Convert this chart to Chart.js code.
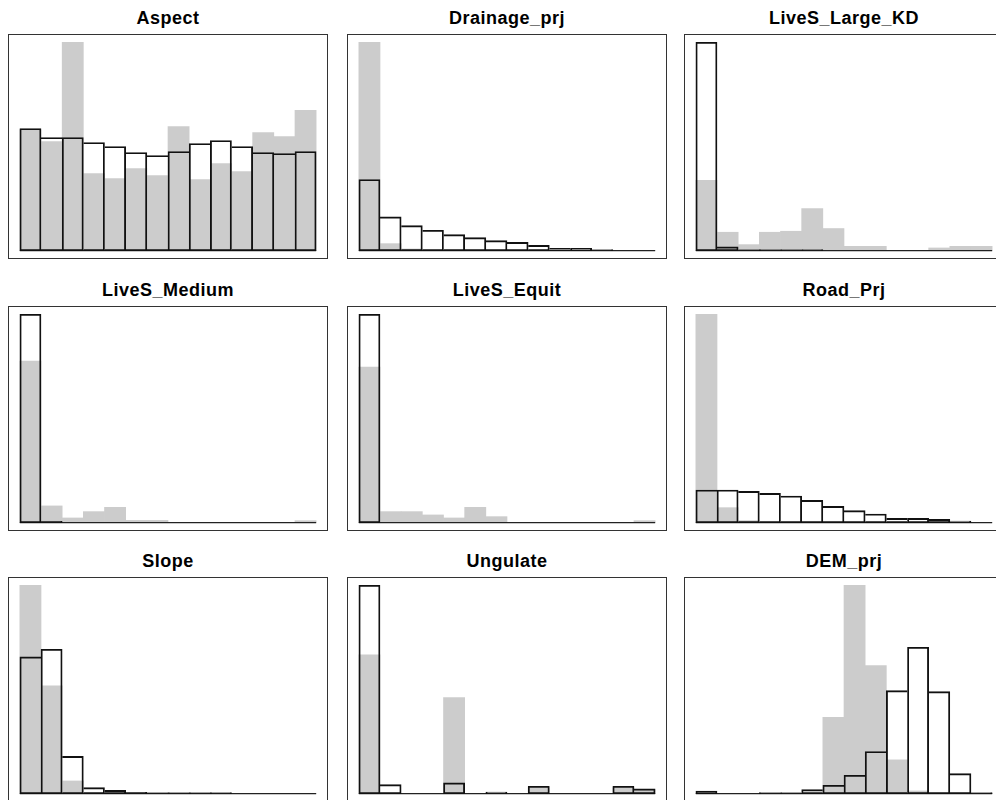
<!DOCTYPE html>
<html>
<head>
<meta charset="utf-8">
<script src="https://cdn.jsdelivr.net/npm/chart.js@4.4.1/dist/chart.umd.min.js"></script>
<style>
  html, body { margin: 0; padding: 0; background: #fff; overflow: hidden; }
  body { width: 996px; height: 800px; position: relative; }
  .title {
    position: absolute; width: 320px; text-align: center;
    font: bold 18px "Liberation Sans", Arial, sans-serif;
    line-height: 18px; letter-spacing: 0.5px; color: #000;
  }
  canvas { position: absolute; }
</style>
</head>
<body>
<script>
// 14 equal-width bins, same breaks for both histograms in a panel
const binEdges = [0, 1, 2, 3, 4, 5, 6, 7, 8, 9, 10, 11, 12, 13, 14];

const panelTitles = ['Aspect', 'Drainage_prj', 'LiveS_Large_KD',
                     'LiveS_Medium', 'LiveS_Equit', 'Road_Prj',
                     'Slope', 'Ungulate', 'DEM_prj'];

// bar heights (relative units, tallest bar ~208)
const aspectGray      = [121, 109, 208, 77, 72, 82, 75, 124, 71, 87, 79, 118, 114, 140];
const aspectOutline   = [122, 113, 113, 108, 104, 98, 95, 99, 107, 110, 104, 98, 97, 99];

const drainageGray    = [208, 7, 1.7, 0, 0, 0, 0, 0, 0, 0, 0, 0, 0, 0];
const drainageOutline = [71, 33.7, 25, 20.3, 16, 13, 10, 8.3, 5.3, 2.3, 2.3, 1, 0, 0];

const largeKdGray     = [70, 18.3, 6, 18.3, 19.3, 41.7, 22, 4.3, 4.3, 0, 0, 2.7, 4.3, 4.3];
const largeKdOutline  = [207, 3.7, 1, 1, 1, 1, 0, 0, 0, 0, 0, 0, 0, 0];

const mediumGray      = [161, 16.7, 4.7, 11, 15.3, 2.3, 2.3, 0, 0, 0, 0, 0, 0, 2];
const mediumOutline   = [207.7, 1.3, 0, 0, 0, 0, 0, 0, 0, 0, 0, 0, 0, 0];

const equitGray       = [155, 11, 11, 7.7, 4.7, 15.3, 6, 0, 0, 0, 0, 0, 0, 2];
const equitOutline    = [207.7, 0, 0, 0, 0, 0, 0, 0, 0, 0, 0, 0, 0, 0];

const roadGray        = [208.3, 15, 2, 0, 0, 0, 0, 0, 0, 0, 0, 0, 0, 0];
const roadOutline     = [32.7, 32.7, 31.3, 29.3, 26.7, 22.3, 16.3, 12, 8.7, 4.3, 4.3, 3.3, 1.7, 0];

const slopeGray       = [208.3, 107.7, 12.7, 0, 0, 0, 0, 0, 0, 0, 0, 0, 0, 0];
const slopeOutline    = [136.7, 144.3, 37.3, 6, 3.3, 1.3, 1, 1, 1, 1, 0, 0, 0, 0];

const ungulateGray    = [138.3, 0, 0, 0, 95.7, 0, 0, 0, 6, 0, 0, 0, 6, 4];
const ungulateOutline = [207.7, 9, 0, 0, 10.7, 0, 1.7, 0, 7.3, 0, 0, 0, 7.3, 4.7];

const demGray         = [0, 0, 0, 0, 0, 0, 76, 207.7, 127.7, 33.7, 2.7, 0, 0, 0];
const demOutline      = [2.7, 0, 0, 1, 1, 4, 8.3, 18.3, 42, 102.7, 146, 101.7, 20, 1];

const grayData    = [aspectGray, drainageGray, largeKdGray, mediumGray, equitGray,
                     roadGray, slopeGray, ungulateGray, demGray];
const outlineData = [aspectOutline, drainageOutline, largeKdOutline, mediumOutline, equitOutline,
                     roadOutline, slopeOutline, ungulateOutline, demOutline];

// page layout of the 3x3 grid
const boxLefts = [8, 347, 684];
const boxTops = [34, 306, 577];
const boxW = 320, boxH = 225;
const lineW = 1.2;

// box round the plot region
const framePlugin = {
    id: 'frame',
    afterDraw(chart) {
        const { ctx, chartArea: a } = chart;
        ctx.save();
        ctx.strokeStyle = '#333';
        ctx.lineWidth = 1;
        ctx.strokeRect(a.left + 0.5, a.top + 0.5, a.right - a.left - 1, a.bottom - a.top - 1);
        ctx.restore();
    }
};

function toPoints(values) {
    return values.map((v, i) => ({ x: (binEdges[i] + binEdges[i + 1]) / 2, y: v }));
}

// shared edges are drawn only once, by the taller of the two bars
function edgeWidths(values, i) {
    if (i === undefined) return lineW;
    const n = values.length;
    return {
        top: lineW,
        bottom: lineW,
        left: (i === 0 || values[i] >= values[i - 1]) ? lineW : 0,
        right: (i === n - 1 || values[i] > values[i + 1]) ? lineW : 0
    };
}

panelTitles.forEach((title, k) => {
    const left = boxLefts[k % 3];
    const top = boxTops[Math.floor(k / 3)];
    const gray = grayData[k];
    const outline = outlineData[k];

    const label = document.createElement('div');
    label.className = 'title';
    label.style.left = left + 'px';
    label.style.top = (top - 25) + 'px';
    label.textContent = title;
    document.body.appendChild(label);

    const canvas = document.createElement('canvas');
    canvas.width = boxW;
    canvas.height = boxH;
    canvas.style.left = left + 'px';
    canvas.style.top = top + 'px';
    document.body.appendChild(canvas);

    const first = binEdges[0], last = binEdges[binEdges.length - 1];
    const padX = (last - first) * 0.04;
    const ymax = Math.max(...gray, ...outline);

    new Chart(canvas, {
        type: 'bar',
        data: {
            datasets: [
                {
                    type: 'bar',
                    data: toPoints(outline),
                    backgroundColor: 'rgba(0,0,0,0)',
                    borderColor: '#111',
                    borderWidth: ctx => edgeWidths(outline, ctx.dataIndex),
                    borderSkipped: false,
                    grouped: false,
                    barPercentage: 1,
                    categoryPercentage: 1,
                    order: 0
                },
                {
                    type: 'line',
                    data: [{ x: first, y: 0 }, { x: last, y: 0 }],
                    borderColor: '#222',
                    borderWidth: 1.2,
                    pointRadius: 0,
                    order: 1
                },
                {
                    type: 'bar',
                    data: toPoints(gray),
                    backgroundColor: '#cccccc',
                    borderWidth: 0,
                    grouped: false,
                    barPercentage: 1,
                    categoryPercentage: 1,
                    order: 2
                }
            ]
        },
        options: {
            responsive: false,
            animation: false,
            events: [],
            layout: { padding: 0 },
            plugins: {
                legend: { display: false },
                tooltip: { enabled: false },
                title: { display: false }
            },
            scales: {
                x: {
                    type: 'linear',
                    display: false,
                    offset: false,
                    min: first - padX,
                    max: last + padX,
                    afterBuildTicks: s => { s.ticks = binEdges.map(v => ({ value: v })); }
                },
                y: {
                    display: false,
                    min: -0.04 * ymax,
                    max: 1.04 * ymax
                }
            }
        },
        plugins: [framePlugin]
    });
});
</script>
</body>
</html>
